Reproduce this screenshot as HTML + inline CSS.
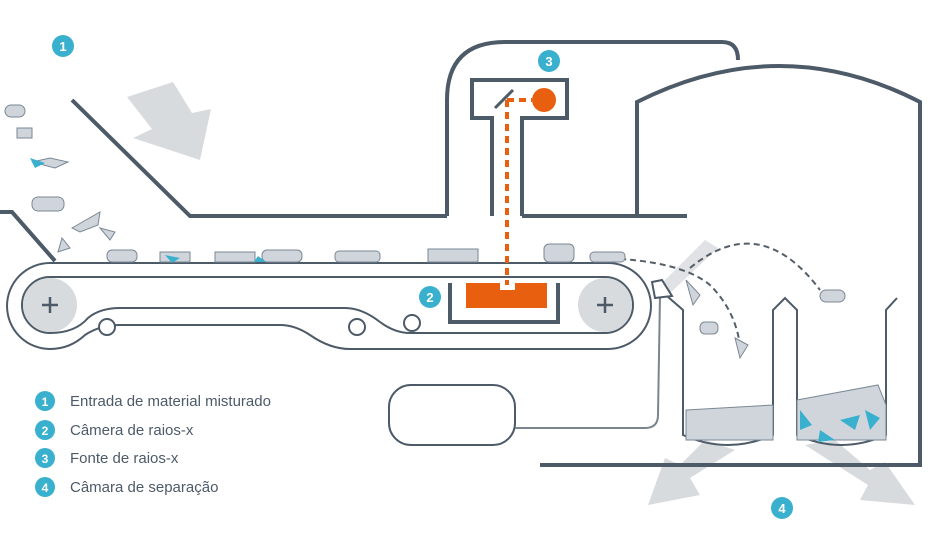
<!DOCTYPE html>
<html><head><meta charset="utf-8"><style>
html,body{margin:0;padding:0;background:#fff;}
svg{display:block;}
text{font-family:"Liberation Sans",sans-serif;}
</style></head><body>
<svg width="928" height="556" viewBox="0 0 928 556" xmlns="http://www.w3.org/2000/svg">
<g fill="#d8dbde">
<polygon points="127,97 173,82 192,113 211,109 200,160 133,138 152,129"/>
<polygon points="705,440 735,450 690,478 700,495 648,505 665,458 680,465"/>
<polygon points="805,445 835,440 870,470 885,462 915,505 860,500 868,485"/>
<polygon points="660,285 705,240 718,248 668,295" opacity="0.8"/>
</g>
<g fill="none" stroke="#4d5a68" stroke-width="4" stroke-linejoin="miter">
<polyline points="72,100 190,216 447,216"/>
<polyline points="0,212 12,212 55,261"/>
<path d="M447,216 V100 Q447,42 505,42 H722 Q738,42 738,60"/>
<path d="M637,216 V102 Q780,30 920,102 V465 H540"/>
<line x1="522" y1="216" x2="687" y2="216"/>
<path d="M492,216 V118 H472 V80 H567 V118 H522 V216"/>
<line x1="495" y1="108" x2="513" y2="90" stroke-width="3"/>
<path d="M450,283 V322 H558 V283"/>
</g>
<g fill="none" stroke="#4d5a68" stroke-width="2">
<path d="M50,263 H608 A43,43 0 0 1 608,349 H350 Q330,349 310,335 Q295,325 280,325 H120 Q100,325 85,335 Q70,349 50,349 A43,43 0 0 1 50,263 Z"/>
<path d="M50,277 H605 A28,28 0 0 1 605,333 H410 Q395,333 380,322 Q362,308 345,308 H120 Q100,308 88,318 Q75,333 50,333 A28,28 0 0 1 50,277 Z"/>
<circle cx="107" cy="327" r="8" fill="#fff"/>
<circle cx="357" cy="327" r="8" fill="#fff"/>
<circle cx="412" cy="323" r="8" fill="#fff"/>
<rect x="389" y="385" width="126" height="60" rx="22"/>
<path d="M515,428 H645 Q658,428 658,415 L660,295" stroke="#7b8590"/>
<path d="M660,290 L683,310 V435 Q728,455 773,435 V310 L785,298 L797,310 V435 Q841,455 886,435 V310 L897,298"/>
</g>
<circle cx="50" cy="305" r="27" fill="#d8dbde"/>
<circle cx="605" cy="305" r="27" fill="#d8dbde"/>
<g stroke="#4d5a68" stroke-width="2.5"><path d="M42,305h16M50,297v16M597,305h16M605,297v16"/></g>
<path d="M466,283 H500 V290 H515 V283 H547 V308 H466 Z" fill="#e8600f"/>
<g stroke="#e8600f" stroke-width="4" stroke-dasharray="7,5" fill="none">
<line x1="507" y1="100" x2="507" y2="285"/>
<line x1="507" y1="100" x2="532" y2="100"/>
</g>
<circle cx="544" cy="100" r="12" fill="#e8600f"/>
<g fill="none" stroke="#555f6a" stroke-width="2" stroke-dasharray="6,4">
<path d="M600,258 Q680,260 710,285 Q735,310 740,345"/>
<path d="M690,268 Q760,210 820,290"/>
</g>
<polygon points="652,282 662,280 672,296 655,298" fill="#fff" stroke="#4d5a68" stroke-width="2"/>
<g fill="#cfd5db" stroke="#7a8894" stroke-width="1">
<rect x="107" y="250" width="30" height="12" rx="5"/><rect x="160" y="252" width="30" height="10"/>
<rect x="215" y="252" width="40" height="10"/><rect x="262" y="250" width="40" height="12" rx="5"/>
<rect x="335" y="251" width="45" height="11" rx="4"/><rect x="428" y="249" width="50" height="13"/>
<rect x="544" y="244" width="30" height="18" rx="5"/><rect x="590" y="252" width="35" height="10" rx="4"/>
<rect x="5" y="105" width="20" height="12" rx="6"/><rect x="17" y="128" width="15" height="10"/>
<polygon points="32,162 50,158 68,162 55,168"/><rect x="32" y="197" width="32" height="14" rx="6"/>
<polygon points="72,228 100,212 98,225 80,232"/><polygon points="58,252 62,238 70,248"/>
<polygon points="100,228 115,232 110,240"/><rect x="820" y="290" width="25" height="12" rx="6"/>
<polygon points="686,280 700,295 693,305"/><rect x="700" y="322" width="18" height="12" rx="5"/>
<polygon points="735,338 748,345 740,358"/>
<polygon points="686,410 773,405 773,440 686,440"/>
<polygon points="797,400 878,385 886,405 886,440 797,440"/>
</g>
<g fill="#3ab0cf">
<polygon points="30,158 45,163 35,168"/><polygon points="800,410 812,425 800,430"/><polygon points="840,420 860,415 855,430"/>
<polygon points="165,255 180,258 172,263"/><polygon points="258,256 266,262 254,262"/>
<polygon points="820,430 835,440 818,442"/><polygon points="865,410 880,418 870,430"/>
<circle cx="63" cy="46" r="11"/><circle cx="549" cy="61" r="11"/><circle cx="430" cy="297" r="11"/><circle cx="782" cy="508" r="11"/>
<circle cx="45" cy="401" r="10"/><circle cx="45" cy="430" r="10"/><circle cx="45" cy="458" r="10"/><circle cx="45" cy="487" r="10"/>
</g>
<g fill="#fff" font-size="13" font-weight="bold" text-anchor="middle">
<text x="63" y="51">1</text><text x="549" y="66">3</text><text x="430" y="302">2</text><text x="782" y="513">4</text>
<text x="45" y="406" font-size="12">1</text><text x="45" y="435" font-size="12">2</text><text x="45" y="463" font-size="12">3</text><text x="45" y="492" font-size="12">4</text>
</g>
<g fill="#4d5a68" font-size="15">
<text x="70" y="406">Entrada de material misturado</text>
<text x="70" y="435">Câmera de raios-x</text>
<text x="70" y="463">Fonte de raios-x</text>
<text x="70" y="492">Câmara de separação</text>
</g>
</svg>
</body></html>
